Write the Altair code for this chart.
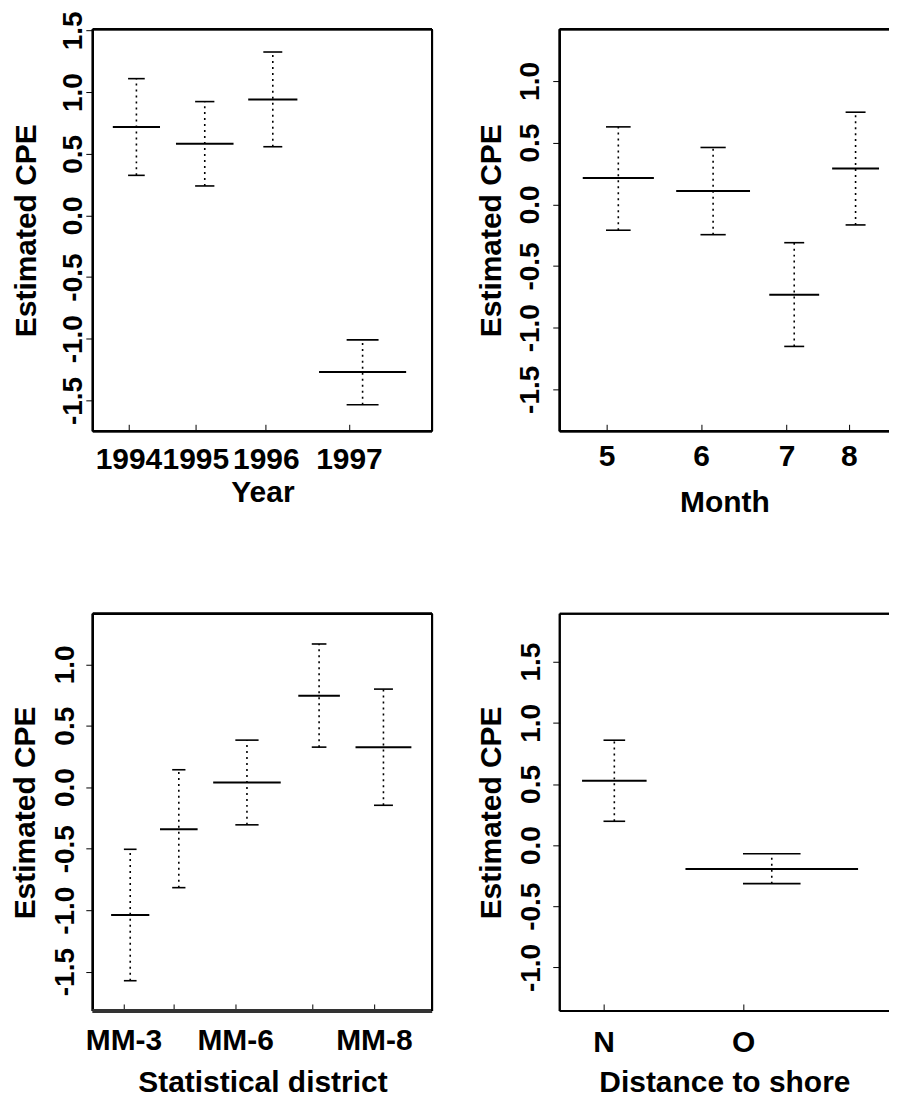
import json
import altair as alt
import pandas as pd

FONT = "Liberation Sans"

# ---------------- Panel 1: Year ----------------
year_labels = ["1994", "1995", "1996", "1997"]
year_ticks = [35.7, 102.7, 173.4, 256.7]
year_center = [43.7, 112.2, 180.4, 270.4]
year_width = [47.3, 57.7, 49.3, 87.3]
year_cap = [16.7, 19.3, 19.0, 32.0]
year_mean = [0.716, 0.581, 0.939, -1.270]
year_lower = [0.325, 0.239, 0.557, -1.535]
year_upper = [1.109, 0.923, 1.325, -1.009]
year_ydomain = [-1.75, 1.51]
year_yticks = [-1.5, -1.0, -0.5, 0.0, 0.5, 1.0, 1.5]

# ---------------- Panel 2: Month ----------------
month_labels = ["5", "6", "7", "8"]
month_ticks = [47.0, 141.7, 227.3, 289.7]
month_center = [58.7, 153.7, 235.0, 296.5]
month_width = [71.3, 74.0, 50.0, 47.0]
month_cap = [24.7, 25.3, 20.0, 20.0]
month_mean = [0.213, 0.108, -0.734, 0.291]
month_lower = [-0.210, -0.246, -1.152, -0.167]
month_upper = [0.628, 0.461, -0.311, 0.747]
month_ydomain = [-1.84, 1.42]
month_yticks = [-1.5, -1.0, -0.5, 0.0, 0.5, 1.0]

# ---------------- Panel 3: Statistical district ----------------
district_labels = ["MM-3", "", "MM-6", "", "MM-8"]
district_ticks = [30.7, 80.7, 142.7, 220.0, 281.7]
district_center = [37.5, 86.2, 154.5, 226.8, 291.3]
district_width = [38.3, 37.7, 67.7, 41.7, 56.0]
district_cap = [12.7, 13.3, 23.3, 14.7, 19.0]
district_mean = [-1.039, -0.342, 0.038, 0.744, 0.326]
district_lower = [-1.574, -0.817, -0.306, 0.326, -0.147]
district_upper = [-0.505, 0.142, 0.383, 1.165, 0.798]
district_ydomain = [-1.82, 1.41]
district_yticks = [-1.5, -1.0, -0.5, 0.0, 0.5, 1.0]

# ---------------- Panel 4: Distance to shore ----------------
shore_labels = ["N", "O"]
shore_ticks = [44.0, 183.7]
shore_center = [54.7, 212.5]
shore_width = [64.7, 173.0]
shore_cap = [21.7, 57.7]
shore_mean = [0.526, -0.195]
shore_lower = [0.195, -0.315]
shore_upper = [0.858, -0.071]
shore_ydomain = [-1.356, 1.891]
shore_yticks = [-1.0, -0.5, 0.0, 0.5, 1.0, 1.5]

Y_LABEL_EXPR = ("datum.value < 0 ? '-' + format(-datum.value, '.1f') "
                ": format(datum.value, '.1f')")


def panel(labels, ticks, center, width, cap, mean, lower, upper,
          x_max, y_dom, y_vals, plot_w, plot_h, x_title,
          x_lab_pad, x_title_pad, y_lab_pad, y_title_pad,
          right_frame=True, bottom_w=2.0, bottom_color="black"):
    df = pd.DataFrame({
        "center": center,
        "x0": [c - w / 2 for c, w in zip(center, width)],
        "x1": [c + w / 2 for c, w in zip(center, width)],
        "c0": [c - w / 2 for c, w in zip(center, cap)],
        "c1": [c + w / 2 for c, w in zip(center, cap)],
        "mean": mean,
        "lower": lower,
        "upper": upper,
    })
    xs = alt.Scale(domain=[0, x_max], nice=False, zero=False)
    ys = alt.Scale(domain=y_dom, nice=False, zero=False)
    xax = alt.Axis(
        values=ticks,
        labelExpr=f"{json.dumps(labels)}[indexof({json.dumps(ticks)}, datum.value)]",
        labelAngle=0, labelFont=FONT, labelFontSize=30, labelFontWeight="bold",
        labelColor="black", labelPadding=x_lab_pad, labelFlush=False,
        labelOverlap=False, tickSize=7, tickColor="black", tickWidth=1,
        offset=-7, domain=False, grid=False,
        title=x_title, titleFont=FONT, titleFontSize=30, titleFontWeight="bold",
        titleColor="black", titlePadding=x_title_pad,
    )
    yax = alt.Axis(
        values=y_vals, labelExpr=Y_LABEL_EXPR,
        labelAngle=270, labelAlign="center", labelBaseline="alphabetic",
        labelFont=FONT, labelFontSize=28, labelFontWeight="bold",
        labelColor="black", labelPadding=y_lab_pad, labelFlush=False,
        labelOverlap=False, tickSize=7, tickColor="black", tickWidth=1,
        domain=False, grid=False,
        title="Estimated CPE", titleFont=FONT, titleFontSize=30,
        titleFontWeight="bold", titleColor="black", titleAngle=270,
        titleAlign="center", titleBaseline="bottom", titlePadding=y_title_pad,
    )
    base = alt.Chart(df)
    means = base.mark_rule(strokeWidth=2, color="black").encode(
        x=alt.X("x0:Q", scale=xs, axis=xax), x2="x1:Q",
        y=alt.Y("mean:Q", scale=ys, axis=yax))
    cap_up = base.mark_rule(strokeWidth=1.6, color="black").encode(
        x=alt.X("c0:Q", scale=xs, axis=xax), x2="c1:Q",
        y=alt.Y("upper:Q", scale=ys, axis=yax))
    cap_lo = base.mark_rule(strokeWidth=1.6, color="black").encode(
        x=alt.X("c0:Q", scale=xs, axis=xax), x2="c1:Q",
        y=alt.Y("lower:Q", scale=ys, axis=yax))
    whisk = base.mark_rule(strokeWidth=1.6, strokeDash=[2, 4], color="black").encode(
        x=alt.X("center:Q", scale=xs, axis=xax),
        y=alt.Y("lower:Q", scale=ys, axis=yax), y2="upper:Q")
    f_top = base.mark_rule(strokeWidth=2, color="black").encode(
        y=alt.YDatum(y_dom[1], scale=ys, axis=yax))
    f_left = base.mark_rule(strokeWidth=2, color="black").encode(
        x=alt.XDatum(0, scale=xs, axis=xax))
    f_bottom = base.mark_rule(strokeWidth=bottom_w, color=bottom_color).encode(
        y=alt.YDatum(y_dom[0], scale=ys, axis=yax))
    layers = [whisk, means, cap_up, cap_lo, f_top, f_left, f_bottom]
    if right_frame:
        layers.append(base.mark_rule(strokeWidth=2, color="black").encode(
            x=alt.XDatum(x_max, scale=xs, axis=xax)))
    return alt.layer(*layers).properties(width=plot_w, height=plot_h)


p1 = panel(year_labels, year_ticks, year_center, year_width, year_cap,
           year_mean, year_lower, year_upper,
           340, year_ydomain, year_yticks, 340, 403, "Year",
           13, 3, 4, 18, right_frame=True)
p2 = panel(month_labels, month_ticks, month_center, month_width, month_cap,
           month_mean, month_lower, month_upper,
           330, month_ydomain, month_yticks, 330, 403, "Month",
           10, 16, 14, 10, right_frame=False)
p3 = panel(district_labels, district_ticks, district_center, district_width,
           district_cap, district_mean, district_lower, district_upper,
           340, district_ydomain, district_yticks, 340, 398, "Statistical district",
           15, 12, 12, 11, right_frame=True, bottom_w=4, bottom_color="#333333")
p4 = panel(shore_labels, shore_ticks, shore_center, shore_width, shore_cap,
           shore_mean, shore_lower, shore_upper,
           330, shore_ydomain, shore_yticks, 330, 398, "Distance to shore",
           17, 10, 13, 11, right_frame=False)

chart = alt.concat(
    p1, p2, p3, p4, columns=2,
    spacing=alt.RowColnumber(row=183, column=128),
    bounds="flush",
).properties(
    padding={"left": 2, "top": 1, "right": 0, "bottom": 0},
    background="white",
).configure_view(stroke=None)

chart.save("out.html", embed_options={"renderer": "svg", "actions": False})
